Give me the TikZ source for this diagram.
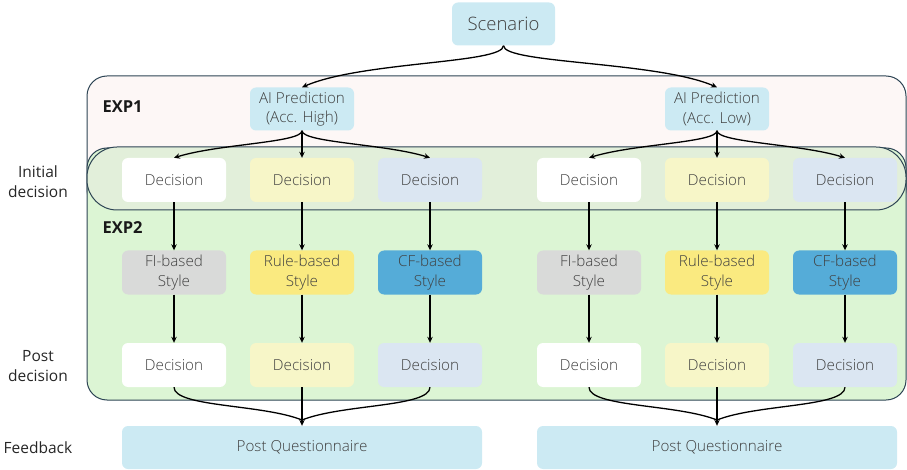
\documentclass[tikz,border=0pt]{standalone}
\usepackage{fontspec}
\setmainfont{Open Sans}
\newfontfamily\lightfont{Open Sans Light}
\usetikzlibrary{arrows.meta}

\definecolor{lblue}{HTML}{CCEAF3}
\definecolor{decW}{HTML}{FFFFFF}
\definecolor{decY}{HTML}{F7F6C8}
\definecolor{decB}{HTML}{DBE6F2}
\definecolor{stG}{HTML}{D9DAD9}
\definecolor{stY}{HTML}{FAEA80}
\definecolor{stB}{HTML}{55ACD8}
\definecolor{expone}{HTML}{FDF7F6}
\definecolor{exptwo}{HTML}{DCF5D4}
\definecolor{bandfill}{HTML}{E2EFDA}
\definecolor{frame}{HTML}{2D4454}
\definecolor{txtgray}{HTML}{404040}

\begin{document}
\begin{tikzpicture}[x=1pt,y=-1pt,
  box/.style={rounded corners=6pt, minimum width=104pt, minimum height=44pt,
    inner sep=0pt, align=center, text=txtgray,
    font=\lightfont\fontsize{15.2}{19.5}\selectfont},
  qbox/.style={box, fill=lblue, minimum width=360pt, minimum height=43pt},
  sidelabel/.style={align=center, text=black!85,
    font=\fontsize{15.5}{20}\selectfont},
  explabel/.style={anchor=west, text=black!90,
    font=\bfseries\fontsize{16.5}{19}\selectfont},
  panel/.style={draw=frame, line width=1pt},
  arr/.style={-{Stealth[length=6pt,width=5.5pt]}, line width=1.3pt},
  link/.style={line width=1.3pt}]
\useasboundingbox (0,0) rectangle (907,470);

% experiment panels
\draw[panel, fill=expone, rounded corners=20pt] (87,76) rectangle (906,210);
\draw[panel, fill=exptwo, rounded corners=20pt] (87,148) rectangle (906,400);
\draw[panel, fill=bandfill, rounded corners=30pt] (87,147) rectangle (906,210);

\node[explabel] (exp1) at (99,107) {EXP1};
\node[explabel] (exp2) at (99,228) {EXP2};

% row labels
\node[sidelabel] (lbinit) at (38,182) {Initial\\decision};
\node[sidelabel] (lbpost) at (38,366) {Post\\decision};
\node[sidelabel] (lbfb) at (38,448) {Feedback};

% top
\node[box, fill=lblue, minimum width=103pt, minimum height=43pt,
  font=\lightfont\fontsize{18.5}{20}\selectfont] (scn) at (503.5,24) {Scenario};

% two branches: L (high accuracy), R (low accuracy)
\foreach \s/\x/\acc in {L/0/High, R/415/Low}{
  \node[box, fill=lblue, minimum height=43pt] (ai\s) at (302+\x,109) {AI Prediction\\(Acc. \acc)};
  \node[box, fill=decW] (dA\s) at (174+\x,180) {Decision};
  \node[box, fill=decY] (dB\s) at (302+\x,180) {Decision};
  \node[box, fill=decB] (dC\s) at (430+\x,180) {Decision};
  \node[box, fill=stG] (sA\s) at (174+\x,272.5) {FI-based\\Style};
  \node[box, fill=stY] (sB\s) at (302+\x,272.5) {Rule-based\\Style};
  \node[box, fill=stB, text=black!75] (sC\s) at (430+\x,272.5) {CF-based\\Style};
  \node[box, fill=decW] (pA\s) at (174+\x,365) {Decision};
  \node[box, fill=decY] (pB\s) at (302+\x,365) {Decision};
  \node[box, fill=decB] (pC\s) at (430+\x,365) {Decision};
  \node[qbox] (q\s) at (302+\x,447.5) {Post Questionnaire};
  \coordinate (m\s) at (302+\x,420);

  \draw[arr] (ai\s.south) .. controls +(0,12) and +(45,-14) .. (dA\s.north);
  \draw[arr] (ai\s.south) -- (dB\s.north);
  \draw[arr] (ai\s.south) .. controls +(0,12) and +(-45,-14) .. (dC\s.north);

  \draw[arr] (dA\s.south) -- (sA\s.north);
  \draw[arr] (dB\s.south) -- (sB\s.north);
  \draw[arr] (dC\s.south) -- (sC\s.north);
  \draw[arr] (sA\s.south) -- (pA\s.north);
  \draw[arr] (sB\s.south) -- (pB\s.north);
  \draw[arr] (sC\s.south) -- (pC\s.north);

  \draw[link] (pA\s.south) .. controls +(0,20) and +(-40,-16) .. (m\s);
  \draw[link] (pC\s.south) .. controls +(0,20) and +(40,-16) .. (m\s);
  \draw[arr] (pB\s.south) -- (q\s.north);
}

\draw[arr] (scn.south) .. controls +(0,18) and +(60,-26) .. (aiL.north);
\draw[arr] (scn.south) .. controls +(0,18) and +(-60,-26) .. (aiR.north);
\end{tikzpicture}
\end{document}
